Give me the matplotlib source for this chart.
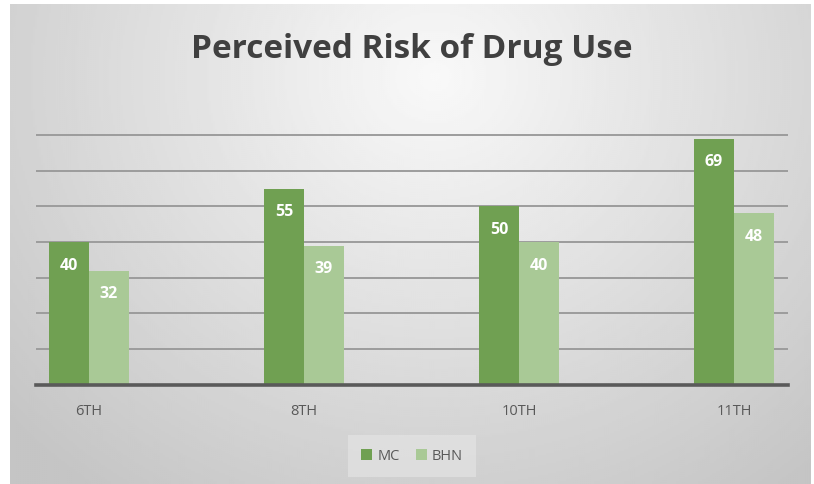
import matplotlib.pyplot as plt
import numpy as np

grades = ["6TH", "8TH", "10TH", "11TH"]
mc = [40, 55, 50, 69]
bhn = [32, 39, 40, 48]
series_names = ["MC", "BHN"]
colors = ["#70a052", "#a9c996"]
title = "Perceived Risk of Drug Use"

W, H = 814, 485
fig = plt.figure(figsize=(W / 100, H / 100), dpi=100)
fig.patch.set_facecolor("white")

# chart-area background with soft radial gradient
bg = fig.add_axes([10 / W, 0, 800 / W, 480 / H])
xx, yy = np.meshgrid(np.linspace(0, 1, 400), np.linspace(0, 1, 240))
r = np.sqrt(((xx - 0.53) / 0.6) ** 2 + ((yy - 0.85) / 0.9) ** 2)
shade = np.clip(0.975 - 0.17 * r, 0.77, 1.0)
bg.imshow(shade, cmap="gray", vmin=0, vmax=1, origin="lower", aspect="auto",
          extent=[0, 1, 0, 1], interpolation="bilinear")
bg.set_axis_off()

# plot area
px_per_unit = (385.7 - 136) / 70
top = 70.5
ax_h = top * px_per_unit
ax = fig.add_axes([36 / W, (H - 385.7) / H, 752 / W, ax_h / H])
ax.set_facecolor("none")

x = np.arange(len(grades))
bw = 0.186
b1 = ax.bar(x - bw / 2, mc, bw, color=colors[0], label=series_names[0], zorder=3)
b2 = ax.bar(x + bw / 2, bhn, bw, color=colors[1], label=series_names[1], zorder=3)

for bars, vals in ((b1, mc), (b2, bhn)):
    for rect, v in zip(bars, vals):
        ax.annotate(str(v), (rect.get_x() + rect.get_width() / 2, v),
                    xytext=(0, -16.5), textcoords="offset points",
                    ha="center", va="center", color="white",
                    fontsize=11.5, fontweight="bold", family="Open Sans", zorder=4)

ax.set_xlim((36 - 89) / 215, (788 - 89) / 215)
ax.set_ylim(0, top)
ax.set_yticks(range(10, 71, 10))
ax.yaxis.grid(True, color="#9c9c9c", lw=1.4, zorder=1)
ax.set_yticklabels([])
ax.tick_params(axis="y", length=0)
ax.axhline(0, color="#5a5a5a", lw=2.6, zorder=5, clip_on=False)

ax.set_xticks(x)
ax.set_xticklabels(grades, color="#595959", fontsize=10.5, family="Open Sans")
ax.tick_params(axis="x", length=0, pad=13.5)
for s in ax.spines.values():
    s.set_visible(False)

fig.text(412 / W, (H - 49) / H, title, ha="center", va="center",
         fontsize=24, fontweight="bold", color="#404040", family="Open Sans")

leg = fig.legend(loc="center", bbox_to_anchor=(412 / W, (H - 457) / H),
                 ncol=2, frameon=True, handlelength=0.75,
                 handleheight=0.75, handletextpad=0.35, columnspacing=1.1,
                 borderpad=0.9, prop={"family": "Open Sans", "size": 10.5})
leg.get_frame().set_facecolor("#e6e6e6")
leg.get_frame().set_alpha(0.6)
leg.get_frame().set_edgecolor("none")
leg.get_frame().set_boxstyle("square", pad=0)
for t in leg.get_texts():
    t.set_color("#595959")

fig.savefig("out.png", dpi=100)
